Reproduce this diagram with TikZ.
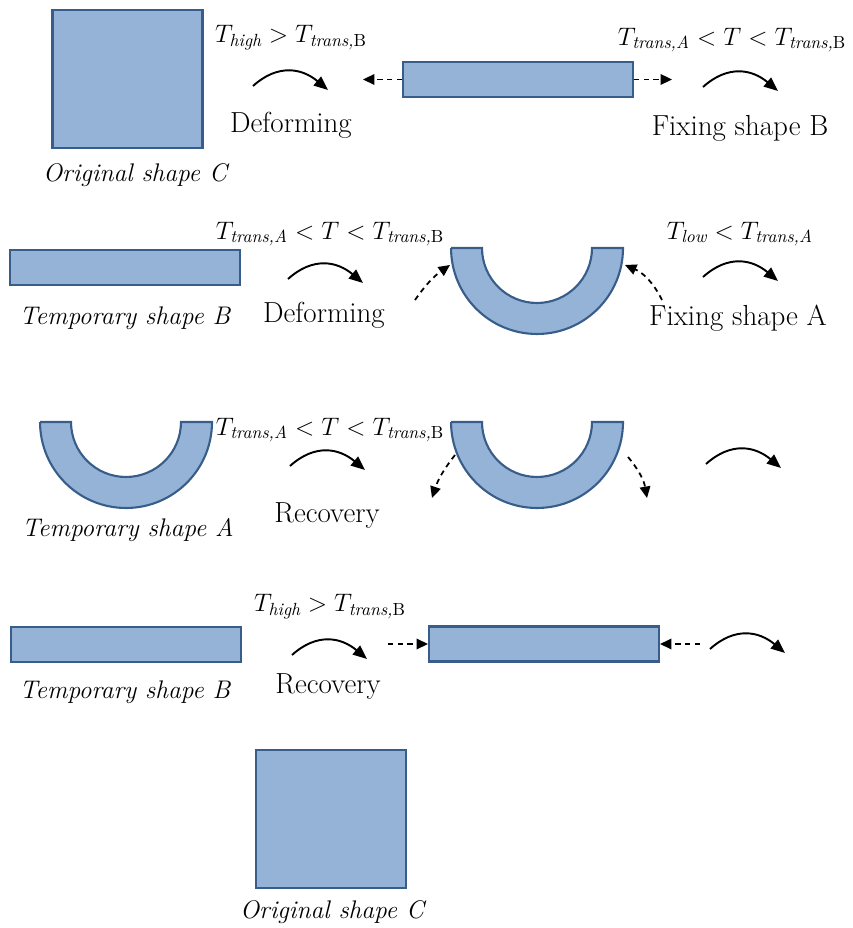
\documentclass[tikz,border=0pt]{standalone}
\usetikzlibrary{arrows.meta}
\definecolor{shapefill}{RGB}{149,179,215}
\definecolor{shapeline}{RGB}{56,93,138}
\newcommand{\Tsb}[1]{T_{\mbox{\fontsize{10}{11}\selectfont\itshape #1}}}
\newcommand{\lt}{\;{<}\;}
\newcommand{\gt}{\;{>}\;}
\tikzset{
    bar/.style={draw=shapeline, fill=shapefill, line width=1.2pt, inner sep=0pt,
        minimum width=4.6cm, minimum height=0.7cm},
    sq/.style={bar, minimum width=3cm, minimum height=2.76cm},
    ushape/.style={draw=shapeline, fill=shapefill, line width=1.2pt},
    bendarrow/.style={line width=1.1pt, -{Triangle[length=8pt,width=6.5pt]}},
    dasharrow/.style={line width=1pt, dash pattern=on 3pt off 2.5pt,
        -{Triangle[length=6.5pt,width=6pt]}},
    stepname/.style={font=\fontsize{16.5}{19}\selectfont, inner sep=0pt},
    shapename/.style={stepname, font=\fontsize{14.5}{17}\selectfont\itshape},
    tempname/.style={stepname, font=\fontsize{15.5}{19}\selectfont}
}
\begin{document}
\begin{tikzpicture}[x=0.02cm,y=0.02cm]
    \useasboundingbox (0,0) rectangle (852,-928);
    % Define dimensions of the bent shape
    \def\outerR{1.72cm}
    \def\innerR{1.1cm}
    % Shapes
    \node[sq]  (sqTop)  at (127.5,-79) {};
    \node[bar] (barOne) at (518,-79.5) {};
    \node[bar] (barTwo) at (125,-267.5) {};
    \node[bar] (barThree) at (126,-644.5) {};
    \node[bar] (barFour) at (544,-644) {};
    \node[sq]  (sqBottom) at (331,-819) {};
    % Bent shapes (half rings)
    \foreach \cx/\cy in {537/-248, 126/-422, 537/-422}
        \draw[ushape] (\cx-86,\cy) -- (\cx-55,\cy)
            arc[start angle=180, end angle=360, radius=\innerR]
            -- (\cx+86,\cy) arc[start angle=0, end angle=-180, radius=\outerR] -- cycle;
    % Shape names
    \node[shapename] (nameC)  at (135,-175) {Original shape C};
    \node[shapename] (nameB)  at (125,-318) {Temporary shape B};
    \node[shapename] (nameA)  at (128,-530) {Temporary shape A};
    \node[shapename] (nameB2) at (125,-692) {Temporary shape B};
    \node[shapename] (nameC2) at (332,-912) {Original shape C};
    % Step names
    \node[stepname] (defOne)  at (291,-125) {Deforming};
    \node[stepname] (fixB)    at (740,-128) {Fixing shape B};
    \node[stepname] (defTwo)  at (324,-315) {Deforming};
    \node[stepname] (fixA)    at (738,-318) {Fixing shape A};
    \node[stepname] (recOne)  at (327,-516) {Recovery};
    \node[stepname] (recTwo)  at (328,-687) {Recovery};
    % Temperatures
    \node[tempname] (tOne)   at (291,-38)  {$\Tsb{high}\gt\Tsb{trans,\upshape B}$};
    \node[tempname] (tTwo)   at (732,-40)  {$\Tsb{trans,A}\lt T\lt\Tsb{trans,\upshape B}$};
    \node[tempname] (tThree) at (330,-234) {$\Tsb{trans,A}\lt T\lt\Tsb{trans,\upshape B}$};
    \node[tempname] (tFour)  at (740,-234) {$\Tsb{low}\lt\Tsb{trans,A}$};
    \node[tempname] (tFive)  at (330,-430) {$\Tsb{trans,A}\lt T\lt\Tsb{trans,\upshape B}$};
    \node[tempname] (tSix)   at (330,-607) {$\Tsb{high}\gt\Tsb{trans,\upshape B}$};
    % Process arrows
    \foreach \n/\x/\y in {1/253/-86, 2/703/-87, 3/288/-279, 4/703/-277,
                          5/290/-466, 6/706/-464, 7/292/-655, 8/710/-649} {
        \coordinate (bs\n) at (\x,\y);
        \coordinate (be\n) at (\x+75,\y-4);
        \draw[bendarrow] (bs\n) to[out=42,in=140,looseness=1.15] (be\n);
    }
    % Dashed arrows
    \coordinate (dlOne) at (363,-79.5);
    \coordinate (drOne) at (672,-79.5);
    \draw[dasharrow] (barOne.west) -- (dlOne);
    \draw[dasharrow] (barOne.east) -- (drOne);
    \coordinate (dlFour) at (388,-644);
    \coordinate (drFour) at (700,-644);
    \draw[dasharrow] (dlFour) -- (barFour.west);
    \draw[dasharrow] (drFour) -- (barFour.east);
    \coordinate (bendLs) at (415,-300);
    \coordinate (bendLe) at (450,-265);
    \coordinate (bendRs) at (662,-300);
    \coordinate (bendRe) at (625,-265);
    \draw[dasharrow] (bendLs) to[bend left=10] (bendLe);
    \draw[dasharrow] (bendRs) to[bend right=20] (bendRe);
    \coordinate (openLs) at (455,-455);
    \coordinate (openLe) at (432,-498);
    \coordinate (openRs) at (628,-457);
    \coordinate (openRe) at (647,-498);
    \draw[dasharrow] (openLs) to[bend right=10] (openLe);
    \draw[dasharrow] (openRs) to[bend left=15] (openRe);
\end{tikzpicture}
\end{document}
